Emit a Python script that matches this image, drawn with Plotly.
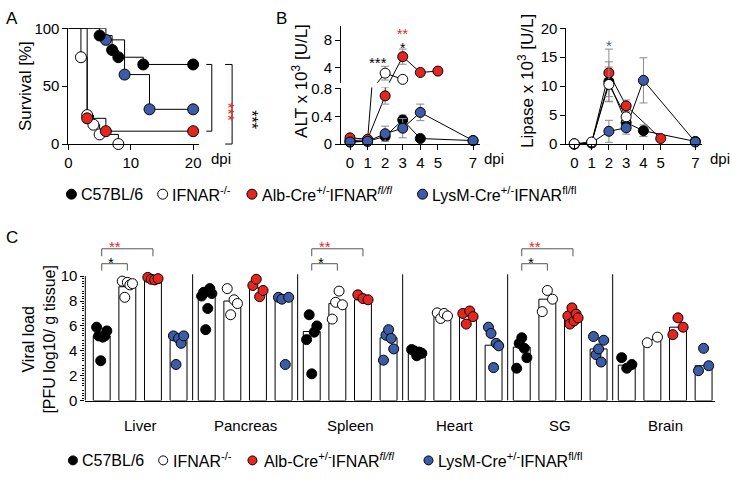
import plotly.graph_objects as go

W, H = 732, 479
FONT = "Liberation Sans, Arial, sans-serif"
RED = "#E5261F"
BLUE = "#3D5CA8"
ERRC = "#8a8a8a"

# ---------------- data ----------------
group_names = ["C57BL/6", "IFNAR<sup>-/-</sup>",
               "Alb-Cre<sup>+/-</sup>IFNAR<sup><i>fl/fl</i></sup>",
               "LysM-Cre<sup>+/-</sup>IFNAR<sup>fl/fl</sup>"]
group_colors = ["#000000", "#FFFFFF", RED, BLUE]

# Panel A: survival (Kaplan-Meier steps)
surv_days_c57 = [0, 5, 7, 8, 12, 20]
surv_pct_c57 = [100, 93.75, 81.25, 75, 68.75, 68.75]
surv_days_ifnar = [0, 2, 3, 4, 5, 8]
surv_pct_ifnar = [100, 75, 25, 16.7, 8.3, 0]
surv_days_alb = [0, 3, 6, 20]
surv_pct_alb = [100, 22.2, 11.1, 11.1]
surv_days_lysm = [0, 6, 9, 13, 20]
surv_pct_lysm = [100, 90, 60, 30, 30]
surv_ticks = [0, 10, 20]

# Panel B: ALT and lipase (x 10^3 U/L)
b_days = [0, 1, 2, 3, 4, 5, 7]
alt_c57 = [0.03, 0.04, 0.11, 0.35, 0.08, None, 0.05]
alt_c57_err = [0.01, 0.01, 0.05, 0.07, 0.01, 0, 0.01]
alt_ifnar = [0.05, 0.06, 3.2, 2.3, None, None, None]
alt_ifnar_err = [0.01, 0.01, 1.0, 0.3, 0, 0, 0]
alt_alb = [0.09, 0.07, 0.70, 5.6, 3.3, 3.5, None]
alt_alb_err = [0.02, 0.01, 0.12, 1.1, 0.3, 0.2, 0]
alt_lysm = [0.03, 0.04, 0.15, 0.23, 0.46, None, 0.05]
alt_lysm_err = [0.01, 0.01, 0.11, 0.14, 0.12, 0, 0.01]

lip_c57 = [0.0, 0.2, 10.8, 3.7, 2.3, None, 0.45]
lip_c57_err = [0, 0.1, 3.4, 0.8, 1.0, 0, 0.1]
lip_ifnar = [0.05, 0.35, 10.3, 4.7, None, None, None]
lip_ifnar_err = [0, 0.1, 3.0, 0.7, 0, 0, 0]
lip_alb = [0.0, 0.2, 12.3, 6.6, None, 0.95, None]
lip_alb_err = [0, 0.1, 4.1, 1.0, 0, 0.2, 0]
lip_lysm = [0.0, 0.2, 2.2, 2.8, 11.0, None, 0.35]
lip_lysm_err = [0, 0.1, 1.9, 1.1, 3.9, 0, 0.1]

# Panel C: viral load (PFU log10 / g tissue)
organs = ["Liver", "Pancreas", "Spleen", "Heart", "SG", "Brain"]
vl_c57 = [[5.9, 5.2, 3.2, 5.1, 5.2, 5.6], [8.4, 8.7, 5.7, 7.4, 9.0, 8.6],
          [4.9, 6.9, 2.15, 5.5, 6.0], [4.1, 4.0, 3.6, 3.9, 3.8],
          [2.6, 4.6, 5.05, 4.2, 3.45], [3.45, 2.6, 2.9]]
vl_ifnar = [[9.6, 8.3, 9.5, 9.3, 9.4], [9.0, 6.9, 8.1, 7.8],
            [6.55, 7.9, 8.8, 7.7], [7.05, 6.6, 7.0, 6.8],
            [7.15, 8.85, 8.15], [4.65, 5.1]]
vl_alb = [[9.9, 9.75, 9.7, 9.8], [9.25, 9.75, 8.35, 8.85],
          [8.5, 8.2, 8.1], [7.0, 6.15, 7.2, 6.75],
          [6.8, 6.15, 7.45, 6.4, 6.95, 6.65], [5.3, 6.65, 5.9]]
vl_lysm = [[5.2, 2.9, 5.0, 4.6, 5.2], [8.3, 8.15, 2.9, 8.3],
           [3.25, 5.25, 5.7, 5.0, 4.15], [5.9, 5.4, 2.65, 4.6, 4.4],
           [5.15, 3.7, 4.15, 3.1, 4.85], [2.4, 4.2, 2.8]]
vl_bar_c57 = [5.2, 8.4, 5.55, 3.9, 4.3, 2.85]
vl_bar_ifnar = [9.15, 8.0, 7.8, 6.85, 8.15, 4.9]
vl_bar_alb = [9.8, 9.05, 8.1, 6.8, 6.65, 5.9]
vl_bar_lysm = [4.9, 8.2, 5.05, 4.45, 4.15, 2.8]
vl_sig_black = ["*", "", "*", "", "*", ""]   # C57BL/6 vs IFNAR-/-
vl_sig_red = ["**", "", "**", "", "**", ""]  # C57BL/6 vs Alb-Cre
vl_ticks = [0, 2, 4, 6, 8, 10]

# ---------------- helpers ----------------
def PX(x):
    return x / W


def PY(y):
    return 1 - y / H


AX = dict(showline=True, linecolor="black", linewidth=1, ticks="outside",
          ticklen=5, tickwidth=1, tickcolor="black", showgrid=False,
          zeroline=False, fixedrange=True,
          tickfont=dict(family=FONT, size=15, color="black"))

fig = go.Figure()
annots = []
shapes = []

# ---------------- Panel A ----------------
surv = [(surv_days_ifnar, surv_pct_ifnar, group_colors[1]),
        (surv_days_lysm, surv_pct_lysm, group_colors[3]),
        (surv_days_c57, surv_pct_c57, group_colors[0]),
        (surv_days_alb, surv_pct_alb, group_colors[2])]
for d, p, c in surv:
    fig.add_trace(go.Scatter(x=d, y=p, mode="lines", xaxis="x", yaxis="y",
                             line=dict(color="black", width=1, shape="hv"),
                             hoverinfo="skip", showlegend=False))
for d, p, c in surv:
    fig.add_trace(go.Scatter(x=d[1:], y=p[1:], mode="markers", xaxis="x", yaxis="y",
                             marker=dict(size=11, color=c, line=dict(color="black", width=1)),
                             cliponaxis=False, hoverinfo="skip", showlegend=False))

# ---------------- Panel B: ALT (broken axis) ----------------
LOW_MAX, UP_MIN = 0.82, 1.8
alt_series = [(alt_c57, alt_c57_err, group_colors[0]),
              (alt_ifnar, alt_ifnar_err, group_colors[1]),
              (alt_alb, alt_alb_err, group_colors[2]),
              (alt_lysm, alt_lysm_err, group_colors[3])]
for yax, keep in (("y2", lambda v: v <= LOW_MAX), ("y3", lambda v: v >= UP_MIN)):
    for vals, errs, c in alt_series:
        fig.add_trace(go.Scatter(x=b_days, y=vals, mode="lines", xaxis="x2", yaxis=yax,
                                 connectgaps=True, line=dict(color="black", width=1),
                                 hoverinfo="skip", showlegend=False))
    for vals, errs, c in alt_series:
        xs = [d for d, v in zip(b_days, vals) if v is not None and keep(v)]
        ys = [v for v in vals if v is not None and keep(v)]
        es = [e for v, e in zip(vals, errs) if v is not None and keep(v)]
        fig.add_trace(go.Scatter(x=xs, y=ys, mode="markers", xaxis="x2", yaxis=yax,
                                 error_y=dict(type="data", array=es, color=ERRC,
                                              thickness=1, width=4),
                                 marker=dict(size=10, color=c, line=dict(color="black", width=1)),
                                 cliponaxis=False, hoverinfo="skip", showlegend=False))

# ---------------- Panel B: lipase ----------------
lip_series = [(lip_c57, lip_c57_err, group_colors[0]),
              (lip_alb, lip_alb_err, group_colors[2]),
              (lip_lysm, lip_lysm_err, group_colors[3]),
              (lip_ifnar, lip_ifnar_err, group_colors[1])]
for vals, errs, c in lip_series:
    fig.add_trace(go.Scatter(x=b_days, y=vals, mode="lines", xaxis="x4", yaxis="y4",
                             connectgaps=True, line=dict(color="black", width=1),
                             hoverinfo="skip", showlegend=False))
for vals, errs, c in lip_series:
    fig.add_trace(go.Scatter(x=b_days, y=vals, mode="markers", xaxis="x4", yaxis="y4",
                             error_y=dict(type="data", array=errs, color=ERRC,
                                          thickness=1, width=4),
                             marker=dict(size=10, color=c, line=dict(color="black", width=1)),
                             cliponaxis=False, hoverinfo="skip", showlegend=False))

# ---------------- Panel C ----------------
STEP = 4.1
BARW = 0.66
bars = [vl_bar_c57, vl_bar_ifnar, vl_bar_alb, vl_bar_lysm]
pts = [vl_c57, vl_ifnar, vl_alb, vl_lysm]
for j, (b, c) in enumerate(zip(bars, group_colors)):
    fig.add_trace(go.Bar(x=[g * STEP + j for g in range(len(organs))], y=b, width=BARW,
                         xaxis="x5", yaxis="y5",
                         marker=dict(color="white", line=dict(color="black", width=1)),
                         hoverinfo="skip", showlegend=False))
for j, (grp, c) in enumerate(zip(pts, group_colors)):
    xs, ys = [], []
    for g, vals in enumerate(grp):
        n = len(vals)
        for k, v in enumerate(vals):
            off = 0 if n == 1 else -0.2 + 0.4 * k / (n - 1)
            xs.append(g * STEP + j + off)
            ys.append(v)
    fig.add_trace(go.Scatter(x=xs, y=ys, mode="markers", xaxis="x5", yaxis="y5",
                             marker=dict(size=10, color=c, line=dict(color="black", width=1)),
                             cliponaxis=False, hoverinfo="skip", showlegend=False))

# separators between organs
for g in range(len(organs) - 1):
    shapes.append(dict(type="line", xref="x5", yref="y5", x0=g * STEP + 3.55, x1=g * STEP + 3.55,
                       y0=0, y1=10.15, line=dict(color="black", width=1)))
# y axis line of panel C (only 0..10)
shapes.append(dict(type="line", xref="x5 domain", yref="y5", x0=0, x1=0, y0=0, y1=10,
                   line=dict(color="black", width=1)))
# significance brackets
for g in range(len(organs)):
    x0 = g * STEP
    if vl_sig_black[g]:
        shapes.append(dict(type="path", xref="x5", yref="y5",
                           path=f"M{x0},10.45 L{x0},11.0 L{x0 + 1},11.0 L{x0 + 1},10.45",
                           line=dict(color="#555555", width=1)))
        annots.append(dict(xref="x5", yref="y5", x=x0 + 0.35, y=11.45, text=vl_sig_black[g],
                           showarrow=False, font=dict(size=15, color="black", family=FONT),
                           yshift=-4))
    if vl_sig_red[g]:
        shapes.append(dict(type="path", xref="x5", yref="y5",
                           path=f"M{x0},11.6 L{x0},12.2 L{x0 + 2},12.2 L{x0 + 2},11.6",
                           line=dict(color="#555555", width=1)))
        annots.append(dict(xref="x5", yref="y5", x=x0 + 0.5, y=12.7, text=vl_sig_red[g],
                           showarrow=False, font=dict(size=15, color=RED, family=FONT),
                           yshift=-4))
for g, name in enumerate(organs):
    annots.append(dict(xref="x5", yref="paper", x=g * STEP + 1.5, y=PY(432), text=name,
                       showarrow=False, font=dict(size=15, color="black", family=FONT),
                       yanchor="middle"))

# ---------------- Panel A brackets ----------------
def adx(px):
    return (px - 65) / 132.0

shapes.append(dict(type="path", xref="x domain", yref="y domain",
                   path=f"M{adx(204)},{68.75/100} L{adx(209.5)},{68.75/100} "
                        f"L{adx(209.5)},{11.1/100} L{adx(204)},{11.1/100}",
                   line=dict(color="black", width=1)))
shapes.append(dict(type="path", xref="x domain", yref="y domain",
                   path=f"M{adx(223)},{68.75/100} L{adx(230)},{68.75/100} "
                        f"L{adx(230)},0 L{adx(223)},0",
                   line=dict(color="black", width=1)))
annots.append(dict(xref="paper", yref="paper", x=PX(215), y=PY(95), text="***",
                   textangle=90, showarrow=False, font=dict(size=16, color=RED, family=FONT)))
annots.append(dict(xref="paper", yref="paper", x=PX(239), y=PY(103), text="***",
                   textangle=90, showarrow=False, font=dict(size=16, color="black", family=FONT)))

# ---------------- B stars ----------------
annots.append(dict(xref="x2", yref="y3", x=1.6, y=5.3, text="***", showarrow=False,
                   font=dict(size=15, color="black", family=FONT), yshift=-4))
annots.append(dict(xref="x2", yref="y3", x=3, y=7.4, text="*", showarrow=False,
                   font=dict(size=14, color="black", family=FONT), yshift=-4))
annots.append(dict(xref="x2", yref="y3", x=3, y=9.4, text="**", showarrow=False,
                   font=dict(size=14, color=RED, family=FONT), yshift=-4))
annots.append(dict(xref="x4", yref="y4", x=2, y=17.8, text="*", showarrow=False,
                   font=dict(size=15, color=BLUE, family=FONT), yshift=-4))

# ---------------- titles / labels ----------------
def txt(x, y, t, size=16, angle=0, anchor="center", color="black"):
    annots.append(dict(xref="paper", yref="paper", x=PX(x), y=PY(y), text=t,
                       textangle=angle, xanchor=anchor, yanchor="middle", showarrow=False,
                       font=dict(size=size, color=color, family=FONT)))

txt(8, 10, "A", 17)
txt(280, 10, "B", 17)
txt(8, 237, "C", 17)
txt(21, 80, "Survival [%]", 17, -90)
txt(299, 75, "ALT x 10<sup>3</sup> [U/L]", 17, -90)
txt(527, 75, "Lipase x 10<sup>3</sup> [U/L]", 17, -90)
txt(219, 155, "dpi", 15)
txt(494, 155, "dpi", 15)
txt(710, 155, "dpi", 15, 0, "left")
txt(35, 342, "Viral load<br>[PFU log10/ g tissue]", 16, -90)

# legends
def legend(y, dot_x, text_x, r):
    for c, name, dx, tx in zip(group_colors, group_names, dot_x, text_x):
        shapes.append(dict(type="circle", xref="paper", yref="paper",
                           xsizemode="pixel", ysizemode="pixel",
                           xanchor=PX(dx), yanchor=PY(y), x0=-r, x1=r, y0=-r, y1=r,
                           fillcolor=c, line=dict(color="black", width=1)))
        txt(tx, y, name, 16, 0, "left")

legend(192, [68, 160, 250, 422], [76, 167, 258, 430], 5)
legend(468, [69.5, 160.5, 250.5, 428], [77, 168, 260, 436], 4.5)

# ---------------- layout ----------------
fig.update_layout(
    width=W, height=H, margin=dict(l=0, r=0, t=0, b=0),
    paper_bgcolor="white", plot_bgcolor="white",
    font=dict(family=FONT, color="black"), barmode="overlay",
    xaxis=dict(AX, domain=[PX(65), PX(197)], range=[0, 21], anchor="y",
               tickvals=surv_ticks),
    yaxis=dict(AX, domain=[PY(140), PY(20)], range=[0, 100], anchor="x",
               tickvals=[0, 50, 100]),
    xaxis2=dict(AX, domain=[PX(340), PX(480)], range=[-0.5, 7.4], anchor="y2",
                tickvals=b_days),
    yaxis2=dict(AX, domain=[PY(140), PY(81.5)], range=[0, LOW_MAX], anchor="x2",
                tickvals=[0, 0.4, 0.8], ticktext=["0", "0.4", "0.8"]),
    yaxis3=dict(AX, domain=[PY(76.5), PY(18)], range=[UP_MIN, 10], anchor="x2",
                tickvals=[4, 8]),
    xaxis4=dict(AX, domain=[PX(567), PX(704)], range=[-0.46, 7.4], anchor="y4",
                tickvals=b_days),
    yaxis4=dict(AX, domain=[PY(140), PY(20)], range=[0, 20], anchor="x4",
                tickvals=[0, 5, 10, 15, 20]),
    xaxis5=dict(AX, domain=[PX(82), PX(717)], range=[-0.64, 23.95], anchor="y5",
                ticks="", showticklabels=False),
    yaxis5=dict(AX, domain=[PY(406), PY(237)], range=[0, 13.1], anchor="x5",
                showline=False, tickvals=vl_ticks, ticklen=4,
                minor=dict(tickmode="array", ticks="outside", ticklen=2, tickcolor="black",
                           tickvals=[n + k / 10 for n in range(10) for k in range(2, 10, 2)])),
    shapes=shapes, annotations=annots,
)

fig.write_html("out.html", config={"displayModeBar": False, "staticPlot": True},
               post_script="document.body.style.margin='0px';"
                           "document.body.style.overflow='hidden';")
